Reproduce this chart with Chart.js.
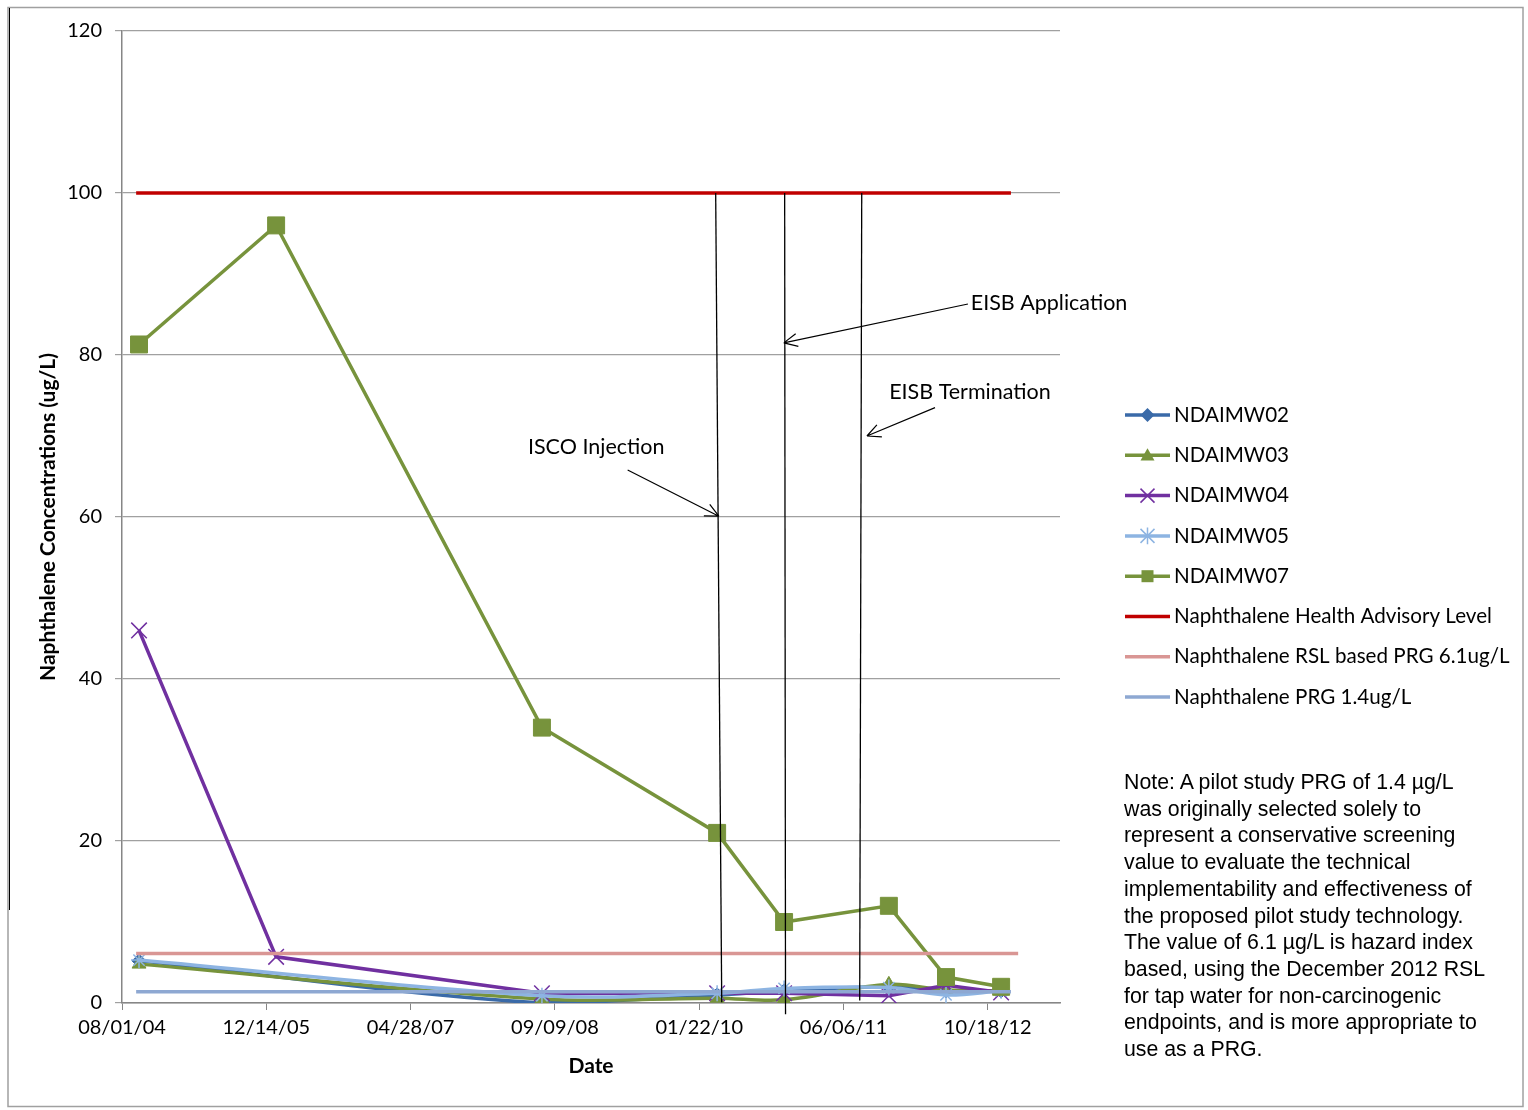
<!DOCTYPE html>
<html>
<head>
<meta charset="utf-8">
<title>Naphthalene Concentrations</title>
<script src="https://cdn.jsdelivr.net/npm/chart.js@4.4.1/dist/chart.umd.min.js"></script>
<style>
  html, body { margin: 0; padding: 0; background: #fff; }
  #wrap { position: relative; width: 1528px; height: 1110px; }
  #note {
    position: absolute; left: 1124px; top: 769px; width: 400px;
    font-family: "Liberation Sans", Arial, sans-serif; font-size: 21.3px;
    line-height: 26.7px; color: #000; white-space: nowrap;
  }
</style>
</head>
<body>
<div id="wrap">
  <canvas id="chart" width="1528" height="1110"></canvas>
  <div id="note">Note: A pilot study PRG of 1.4 µg/L<br>was originally selected solely to<br>represent a conservative screening<br>value to evaluate the technical<br>implementability and effectiveness of<br>the proposed pilot study technology.<br>The value of 6.1 µg/L is hazard index<br>based, using the December 2012 RSL<br>for tap water for non-carcinogenic<br>endpoints, and is more appropriate to<br>use as a PRG.</div>
</div>
<script>
// sampling dates (MM/DD/YY) and results, ug/L
const axisStart = '08/01/04';
const sampleDates = ['09/29/04', '01/17/06', '07/26/08', '03/25/10', '11/12/10', '11/10/11', '05/26/12', '12/03/12'];
const mw02 = [5.2, null, 0.0, 1.0, 1.5, 2.0, 1.5, 1.5];
const mw03 = [4.8, null, 0.5, 0.6, 0.4, 2.3, 1.6, 1.5];
const mw04 = [46, 5.7, 1.2, 1.2, 1.2, 0.9, 2.2, 1.3];
const mw05 = [5.3, null, 0.9, 1.2, 1.8, 1.9, 1.0, 1.5];
const mw07 = [81.3, 96, 34, 21, 10, 12, 3.2, 2.0];

// screening levels
const limitDates = ['09/19/04', '01/06/13'];
const rslDates = ['09/19/04', '01/31/13'];
const healthAdvisory = [100, 100];
const rslPrg = [6.1, 6.1];
const pilotPrg = [1.4, 1.4];

// event markers (date, value)
const eventLines = [
    { top: ['03/20/10', 100], bottom: ['04/10/10', 0.1] },
    { top: ['11/14/10', 100], bottom: ['11/17/10', -1.4] },
    { top: ['08/08/11', 100], bottom: ['08/01/11', 0.3] }
];
const eventArrows = [
    { from: ['05/19/09', 65.8], to: ['03/31/10', 60.1] },
    { from: ['08/10/12', 86.3], to: ['11/11/10', 81.5] },
    { from: ['04/18/12', 73.5], to: ['08/26/11', 70.0] }
];
const eventLabels = [
    { text: 'ISCO Injection', at: ['01/30/09', 68.6] },
    { text: 'EISB Application', at: ['05/18/13', 86.4] },
    { text: 'EISB Termination', at: ['08/17/12', 75.4] }
];

const yTicks = [0, 20, 40, 60, 80, 100, 120];
const xTickDates = ['08/01/04', '12/14/05', '04/28/07', '09/09/08', '01/22/10', '06/06/11', '10/18/12'];
const xMaxDays = 3250;

const DAY = 86400000;
function parseDate(s) {
    const p = s.split('/').map(Number);
    return Date.UTC(2000 + p[2], p[0] - 1, p[1]);
}
const origin = parseDate(axisStart);
function toDay(s) { return Math.round((parseDate(s) - origin) / DAY); }
function pad(n) { return String(n).padStart(2, '0'); }
function fmtDay(v) {
    const d = new Date(origin + v * DAY);
    return pad(d.getUTCMonth() + 1) + '/' + pad(d.getUTCDate()) + '/' + pad(d.getUTCFullYear() % 100);
}
function points(dates, ys) {
    return ys.map((y, i) => ({ x: toDay(dates[i]), y: y }));
}

const calibri = 'Lato, "Open Sans", sans-serif';

function series(label, dates, ys, color, style, radius, tension, order) {
    return {
        label: label,
        data: points(dates, ys),
        borderColor: color,
        backgroundColor: color,
        borderWidth: 3.5,
        pointStyle: style,
        pointRadius: style ? radius : 0,
        pointHoverRadius: style ? radius : 0,
        pointBorderWidth: (style === 'crossRot' || style === 'star') ? 1.5 : 1,
        pointBackgroundColor: color,
        pointBorderColor: color,
        tension: tension,
        spanGaps: true,
        order: order,
        legendMarker: style
    };
}

function drawMarker(ctx, style, x, y, r, color) {
    ctx.save();
    ctx.fillStyle = color;
    ctx.strokeStyle = color;
    ctx.lineWidth = 1.5;
    ctx.beginPath();
    if (style === 'rectRot') {
        ctx.moveTo(x, y - r); ctx.lineTo(x + r, y); ctx.lineTo(x, y + r); ctx.lineTo(x - r, y);
        ctx.closePath(); ctx.fill();
    } else if (style === 'triangle') {
        ctx.moveTo(x, y - r); ctx.lineTo(x + r, y + r * 0.75); ctx.lineTo(x - r, y + r * 0.75);
        ctx.closePath(); ctx.fill();
    } else if (style === 'rect') {
        ctx.fillRect(x - r, y - r, 2 * r, 2 * r);
    } else if (style === 'crossRot') {
        ctx.moveTo(x - r, y - r); ctx.lineTo(x + r, y + r);
        ctx.moveTo(x + r, y - r); ctx.lineTo(x - r, y + r);
        ctx.stroke();
    } else if (style === 'star') {
        ctx.moveTo(x - r, y - r); ctx.lineTo(x + r, y + r);
        ctx.moveTo(x + r, y - r); ctx.lineTo(x - r, y + r);
        ctx.moveTo(x, y - r * 1.2); ctx.lineTo(x, y + r * 1.2);
        ctx.stroke();
    }
    ctx.restore();
}

const extras = {
    id: 'extras',
    beforeDraw(chart) {
        const ctx = chart.ctx;
        ctx.save();
        ctx.fillStyle = '#fff';
        ctx.fillRect(0, 0, chart.width, chart.height);
        ctx.strokeStyle = '#a0a0a0';
        ctx.lineWidth = 1.5;
        ctx.strokeRect(8, 7.5, 1515, 1099);
        ctx.strokeStyle = '#000';
        ctx.lineWidth = 1;
        ctx.beginPath();
        ctx.moveTo(9.5, 8); ctx.lineTo(9.5, 910);
        ctx.stroke();
        ctx.restore();
    },
    afterDatasetsDraw(chart) {
        const ctx = chart.ctx;
        const xs = chart.scales.x, ys = chart.scales.y;
        const px = p => [xs.getPixelForValue(toDay(p[0])), ys.getPixelForValue(p[1])];
        ctx.save();
        ctx.strokeStyle = '#000';
        ctx.lineWidth = 1.3;
        eventLines.forEach(l => {
            const a = px(l.top), b = px(l.bottom);
            ctx.beginPath(); ctx.moveTo(a[0], a[1]); ctx.lineTo(b[0], b[1]); ctx.stroke();
        });
        ctx.lineWidth = 1.2;
        eventArrows.forEach(ar => {
            const a = px(ar.from), b = px(ar.to);
            const ang = Math.atan2(b[1] - a[1], b[0] - a[0]);
            ctx.beginPath(); ctx.moveTo(a[0], a[1]); ctx.lineTo(b[0], b[1]);
            [0.45, -0.45].forEach(d => {
                ctx.moveTo(b[0], b[1]);
                ctx.lineTo(b[0] - 15 * Math.cos(ang + d), b[1] - 15 * Math.sin(ang + d));
            });
            ctx.stroke();
        });
        ctx.fillStyle = '#000';
        ctx.font = '21.5px ' + calibri;
        ctx.textAlign = 'center';
        ctx.textBaseline = 'middle';
        eventLabels.forEach(l => {
            const p = px(l.at);
            ctx.fillText(l.text, p[0], p[1]);
        });
        ctx.restore();
    },
    afterDraw(chart) {
        // legend on the right
        const ctx = chart.ctx;
        ctx.save();
        ctx.font = '20.6px ' + calibri;
        ctx.textBaseline = 'middle';
        ctx.textAlign = 'left';
        const x0 = 1125, x1 = 1170, top = 415, gap = 40.3;
        chart.data.datasets.forEach((ds, i) => {
            const y = top + i * gap;
            ctx.strokeStyle = ds.borderColor;
            ctx.lineWidth = 3.5;
            ctx.beginPath(); ctx.moveTo(x0, y); ctx.lineTo(x1, y); ctx.stroke();
            if (ds.legendMarker) {
                const r = ds.legendMarker === 'rect' ? 6 : 7;
                drawMarker(ctx, ds.legendMarker, (x0 + x1) / 2, y, r, ds.borderColor);
            }
            ctx.fillStyle = '#000';
            ctx.fillText(ds.label, 1174, y);
        });
        ctx.restore();
    }
};

new Chart(document.getElementById('chart'), {
    type: 'line',
    data: {
        datasets: [
            series('NDAIMW02', sampleDates, mw02, '#3A6AA8', 'rectRot', 7, 0.35, 8),
            series('NDAIMW03', sampleDates, mw03, '#77933C', 'triangle', 8, 0.35, 7),
            series('NDAIMW04', sampleDates, mw04, '#7030A0', 'crossRot', 11, 0, 6),
            series('NDAIMW05', sampleDates, mw05, '#8DB4E2', 'star', 8, 0.35, 5),
            series('NDAIMW07', sampleDates, mw07, '#77933C', 'rect', 12, 0, 4),
            series('Naphthalene Health Advisory Level', limitDates, healthAdvisory, '#C00000', false, 0, 0, 3),
            series('Naphthalene RSL based PRG 6.1ug/L', rslDates, rslPrg, '#D99694', false, 0, 0, 2),
            series('Naphthalene PRG 1.4ug/L', limitDates, pilotPrg, '#8EA8D2', false, 0, 0, 1)
        ]
    },
    options: {
        responsive: false,
        animation: false,
        layout: { padding: { left: 0, top: 31, right: 468, bottom: 0 } },
        plugins: { legend: { display: false }, tooltip: { enabled: false } },
        scales: {
            x: {
                type: 'linear',
                min: 0,
                max: xMaxDays,
                afterFit(scale) { scale.height = 107; },
                afterBuildTicks(scale) { scale.ticks = xTickDates.map(d => ({ value: toDay(d) })); },
                ticks: {
                    autoSkip: false,
                    maxRotation: 0,
                    padding: 6,
                    color: '#000',
                    font: { family: calibri, size: 20 },
                    callback: v => fmtDay(v)
                },
                grid: { drawOnChartArea: false, tickLength: 7, color: '#868686' },
                border: { color: '#868686', width: 1.5 },
                title: {
                    display: true, text: 'Date', color: '#000',
                    font: { family: calibri, size: 21, weight: 'bold' },
                    padding: { top: 0, bottom: 31 }
                }
            },
            y: {
                min: 0,
                max: 120,
                afterFit(scale) { scale.width = 122; },
                afterBuildTicks(scale) { scale.ticks = yTicks.map(v => ({ value: v })); },
                ticks: {
                    padding: 13,
                    color: '#000',
                    font: { family: calibri, size: 20 }
                },
                grid: { color: '#a0a0a0', tickLength: 7, lineWidth: 1.2 },
                border: { color: '#868686', width: 1.5 },
                title: {
                    display: true, text: 'Naphthalene Concentrations (ug/L)', color: '#000',
                    font: { family: calibri, size: 21, weight: 'bold' },
                    padding: { top: 36, bottom: 0 }
                }
            }
        }
    },
    plugins: [extras]
});
</script>
</body>
</html>
